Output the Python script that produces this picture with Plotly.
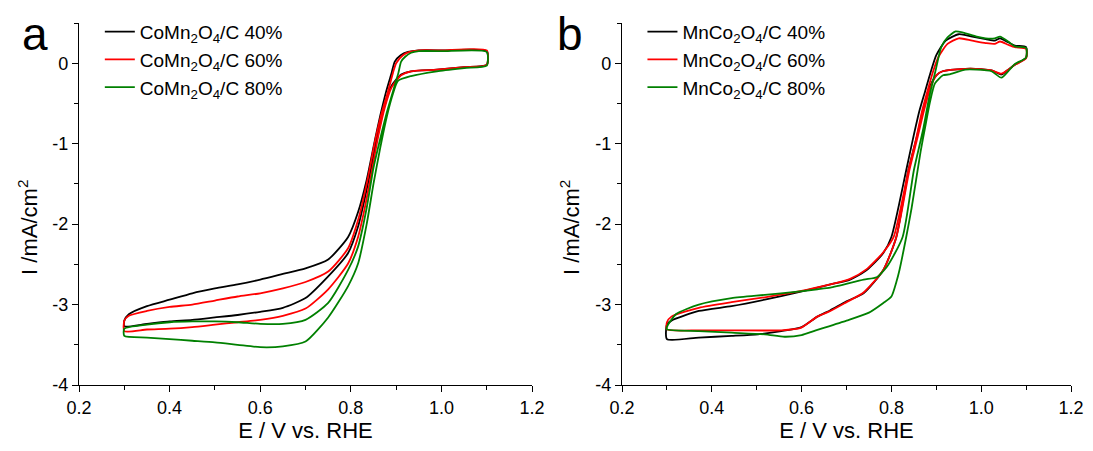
import plotly.graph_objects as go

# ---- data (E / V vs RHE, I / mA cm^-2) ----
# panel a: CoMn2O4/C, each loop = lower branch (0.3 -> 1.1) + upper branch (1.1 -> 0.3)
a40_lo_v = [0.30, 0.35, 0.40, 0.45, 0.50, 0.55, 0.60, 0.65, 0.70, 0.75, 0.794, 0.816, 0.83, 0.845, 0.86, 0.875, 0.89, 0.911, 0.933, 0.99, 1.05, 1.10]
a40_lo_i = [-3.27, -3.24, -3.21, -3.19, -3.16, -3.13, -3.09, -3.04, -2.92, -2.65, -2.36, -2.03, -1.70, -1.30, -0.88, -0.52, -0.28, -0.14, -0.10, -0.08, -0.05, -0.02]
a40_up_v = [0.30, 0.31, 0.35, 0.40, 0.45, 0.50, 0.55, 0.60, 0.65, 0.70, 0.75, 0.794, 0.816, 0.835, 0.853, 0.865, 0.878, 0.89, 0.897, 0.91, 0.926, 0.95, 1.00, 1.10]
a40_up_i = [-3.20, -3.12, -3.02, -2.94, -2.86, -2.80, -2.75, -2.69, -2.62, -2.55, -2.44, -2.16, -1.85, -1.45, -0.96, -0.65, -0.35, -0.12, 0.02, 0.10, 0.14, 0.16, 0.16, 0.15]

a60_lo_v = [0.30, 0.35, 0.40, 0.45, 0.50, 0.55, 0.60, 0.65, 0.70, 0.75, 0.794, 0.816, 0.83, 0.845, 0.86, 0.875, 0.89, 0.911, 0.933, 0.99, 1.05, 1.10]
a60_lo_i = [-3.33, -3.31, -3.30, -3.28, -3.25, -3.22, -3.19, -3.14, -3.05, -2.81, -2.49, -2.16, -1.82, -1.38, -0.92, -0.55, -0.30, -0.15, -0.10, -0.08, -0.05, -0.02]
a60_up_v = [0.30, 0.31, 0.35, 0.40, 0.45, 0.50, 0.55, 0.60, 0.65, 0.70, 0.75, 0.794, 0.816, 0.835, 0.853, 0.868, 0.882, 0.893, 0.90, 0.915, 0.93, 0.95, 1.00, 1.10]
a60_up_i = [-3.20, -3.14, -3.08, -3.03, -3.00, -2.95, -2.90, -2.86, -2.80, -2.72, -2.59, -2.30, -1.95, -1.50, -0.98, -0.62, -0.35, -0.12, 0.00, 0.10, 0.14, 0.16, 0.16, 0.16]

a80_lo_v = [0.30, 0.35, 0.40, 0.45, 0.50, 0.55, 0.60, 0.65, 0.70, 0.75, 0.794, 0.816, 0.835, 0.85, 0.865, 0.88, 0.893, 0.904, 0.933, 0.99, 1.05, 1.10]
a80_lo_i = [-3.39, -3.41, -3.43, -3.45, -3.47, -3.50, -3.53, -3.52, -3.46, -3.16, -2.77, -2.49, -2.00, -1.50, -1.05, -0.65, -0.38, -0.22, -0.16, -0.10, -0.06, -0.03]
a80_up_v = [0.30, 0.35, 0.40, 0.45, 0.50, 0.55, 0.60, 0.65, 0.70, 0.75, 0.794, 0.816, 0.835, 0.85, 0.864, 0.88, 0.893, 0.905, 0.911, 0.92, 0.933, 0.95, 1.00, 1.10]
a80_up_i = [-3.30, -3.25, -3.22, -3.21, -3.21, -3.22, -3.24, -3.24, -3.19, -2.98, -2.57, -2.28, -1.80, -1.30, -0.96, -0.60, -0.35, -0.12, 0.02, 0.08, 0.13, 0.15, 0.15, 0.14]

# panel b: MnCo2O4/C
b40_lo_v = [0.30, 0.371, 0.444, 0.503, 0.555, 0.60, 0.635, 0.664, 0.70, 0.738, 0.782, 0.811, 0.838, 0.855, 0.87, 0.885, 0.90, 0.914, 0.965, 0.987, 1.023, 1.045, 1.06, 1.075, 1.10]
b40_lo_i = [-3.43, -3.41, -3.39, -3.37, -3.33, -3.28, -3.15, -3.07, -2.96, -2.86, -2.57, -2.16, -1.33, -0.95, -0.60, -0.30, -0.15, -0.10, -0.07, -0.07, -0.09, -0.14, -0.08, -0.02, 0.07]
b40_up_v = [0.30, 0.31, 0.371, 0.444, 0.518, 0.591, 0.664, 0.708, 0.745, 0.782, 0.80, 0.833, 0.848, 0.862, 0.875, 0.888, 0.90, 0.921, 0.95, 0.98, 1.01, 1.03, 1.042, 1.06, 1.075, 1.10]
b40_up_i = [-3.25, -3.20, -3.08, -3.02, -2.94, -2.85, -2.75, -2.69, -2.57, -2.36, -2.16, -1.33, -0.94, -0.60, -0.35, -0.10, 0.10, 0.28, 0.36, 0.33, 0.30, 0.28, 0.31, 0.26, 0.22, 0.20]

b60_lo_v = [0.30, 0.371, 0.444, 0.555, 0.598, 0.635, 0.664, 0.70, 0.738, 0.782, 0.811, 0.84, 0.857, 0.872, 0.887, 0.90, 0.914, 0.965, 0.987, 1.023, 1.045, 1.06, 1.075, 1.10]
b60_lo_i = [-3.31, -3.32, -3.32, -3.32, -3.29, -3.15, -3.08, -2.97, -2.85, -2.57, -2.16, -1.33, -0.95, -0.60, -0.30, -0.15, -0.10, -0.07, -0.07, -0.09, -0.13, -0.08, -0.02, 0.06]
b60_up_v = [0.30, 0.31, 0.371, 0.444, 0.518, 0.591, 0.664, 0.708, 0.745, 0.782, 0.805, 0.838, 0.855, 0.868, 0.88, 0.893, 0.905, 0.925, 0.95, 0.98, 1.01, 1.03, 1.042, 1.06, 1.075, 1.10]
b60_up_i = [-3.22, -3.15, -3.04, -2.97, -2.91, -2.84, -2.75, -2.68, -2.56, -2.35, -2.16, -1.33, -0.94, -0.60, -0.35, -0.10, 0.08, 0.24, 0.31, 0.28, 0.25, 0.24, 0.27, 0.23, 0.20, 0.18]

b80_lo_v = [0.30, 0.371, 0.444, 0.518, 0.562, 0.60, 0.627, 0.70, 0.75, 0.782, 0.80, 0.811, 0.818, 0.833, 0.845, 0.855, 0.865, 0.875, 0.886, 0.897, 0.915, 0.928, 0.965, 0.99, 1.023, 1.045, 1.06, 1.075, 1.10]
b80_lo_i = [-3.31, -3.33, -3.35, -3.37, -3.40, -3.38, -3.33, -3.20, -3.10, -2.98, -2.90, -2.72, -2.57, -2.16, -1.80, -1.45, -1.10, -0.80, -0.48, -0.25, -0.15, -0.14, -0.08, -0.08, -0.10, -0.18, -0.10, -0.01, 0.07]
b80_up_v = [0.30, 0.32, 0.371, 0.444, 0.518, 0.591, 0.635, 0.664, 0.738, 0.767, 0.79, 0.825, 0.85, 0.87, 0.885, 0.898, 0.911, 0.925, 0.943, 0.96, 0.99, 1.01, 1.03, 1.042, 1.06, 1.075, 1.10]
b80_up_i = [-3.28, -3.12, -3.00, -2.92, -2.88, -2.84, -2.81, -2.79, -2.69, -2.66, -2.53, -2.16, -1.33, -0.84, -0.40, -0.10, 0.20, 0.32, 0.395, 0.38, 0.33, 0.31, 0.31, 0.33, 0.27, 0.21, 0.19]

a_names = ["CoMn<sub>2</sub>O<sub>4</sub>/C 40%", "CoMn<sub>2</sub>O<sub>4</sub>/C 60%", "CoMn<sub>2</sub>O<sub>4</sub>/C 80%"]
b_names = ["MnCo<sub>2</sub>O<sub>4</sub>/C 40%", "MnCo<sub>2</sub>O<sub>4</sub>/C 60%", "MnCo<sub>2</sub>O<sub>4</sub>/C 80%"]
colors = ["#000000", "#ff0000", "#008000"]

x_ticks = [0.2, 0.4, 0.6, 0.8, 1.0, 1.2]
x_ticktext = ["0.2", "0.4", "0.6", "0.8", "1.0", "1.2"]
y_ticks = [-4, -3, -2, -1, 0]
y_ticktext = ["-4", "-3", "-2", "-1", "0"]

FONT = "Liberation Sans, Arial, sans-serif"


def loop(lo_v, lo_i, up_v, up_i):
    """lower branch forward, upper branch back, closed at 0.3 V"""
    v = list(lo_v) + list(reversed(up_v)) + [lo_v[0]]
    i = list(lo_i) + list(reversed(up_i)) + [lo_i[0]]
    return v, i


fig = go.Figure()

a_loops = [(a40_lo_v, a40_lo_i, a40_up_v, a40_up_i),
           (a60_lo_v, a60_lo_i, a60_up_v, a60_up_i),
           (a80_lo_v, a80_lo_i, a80_up_v, a80_up_i)]
b_loops = [(b40_lo_v, b40_lo_i, b40_up_v, b40_up_i),
           (b60_lo_v, b60_lo_i, b60_up_v, b60_up_i),
           (b80_lo_v, b80_lo_i, b80_up_v, b80_up_i)]

for name, col, d in zip(a_names, colors, a_loops):
    v, i = loop(*d)
    fig.add_trace(go.Scatter(x=v, y=i, mode='lines', name=name,
                             line=dict(color=col, width=1.8, shape='spline', smoothing=0.6),
                             xaxis='x', yaxis='y', legend='legend'))

for name, col, d in zip(b_names, colors, b_loops):
    v, i = loop(*d)
    fig.add_trace(go.Scatter(x=v, y=i, mode='lines', name=name,
                             line=dict(color=col, width=1.8, shape='spline', smoothing=0.6),
                             xaxis='x2', yaxis='y2', legend='legend2'))

xax = dict(range=[0.2, 1.2], tickvals=x_ticks, ticktext=x_ticktext, automargin=False,
           showline=True, linecolor='black', linewidth=1.3, mirror=False,
           ticks='outside', ticklen=6, tickwidth=1.3, tickcolor='black',
           minor=dict(ticks='outside', dtick=0.1, tick0=0.2, ticklen=4, tickwidth=1.3, tickcolor='black'),
           showgrid=False, zeroline=False,
           tickfont=dict(family=FONT, size=18, color='black'),
           title=dict(text='E / V vs. RHE', font=dict(family=FONT, size=22, color='black'), standoff=13))
yax = dict(range=[-4, 0.5], tickvals=y_ticks, ticktext=y_ticktext, automargin=False,
           showline=True, linecolor='black', linewidth=1.3, mirror=False,
           ticks='outside', ticklen=6, tickwidth=1.3, tickcolor='black',
           minor=dict(ticks='outside', dtick=0.5, tick0=0, ticklen=4, tickwidth=1.3, tickcolor='black'),
           showgrid=False, zeroline=False,
           tickfont=dict(family=FONT, size=18, color='black'))

leg = dict(xanchor='left', yanchor='top', bgcolor='rgba(0,0,0,0)',
           font=dict(family=FONT, size=19, color='black'), tracegroupgap=0,
           itemwidth=30)

ytitle = 'I /mA/cm<sup>2</sup>'
title_font = dict(family=FONT, size=22, color='black')
letter_font = dict(family=FONT, size=46, color='black')

# page body has an 8px margin: keep the figure inside the window so no scrollbars appear
fig.update_layout(
    width=1077, height=435,
    margin=dict(l=71, r=14, t=15, b=58, autoexpand=False),
    plot_bgcolor='white', paper_bgcolor='white',
    showlegend=True,
    xaxis=dict(domain=[0, 0.4567], anchor='y', **xax),
    yaxis=dict(domain=[0, 1], anchor='x', **yax),
    xaxis2=dict(domain=[0.5474, 1], anchor='y2', **xax),
    yaxis2=dict(domain=[0, 1], anchor='x2', **yax),
    legend=dict(x=0.021, y=1.028, **leg),
    legend2=dict(x=0.568, y=1.028, **leg),
    annotations=[
        dict(text='a', x=-0.0595, y=0.97, xref='paper', yref='paper', xanchor='left', yanchor='middle',
             showarrow=False, font=letter_font),
        dict(text='b', x=0.480, y=0.97, xref='paper', yref='paper', xanchor='left', yanchor='middle',
             showarrow=False, font=letter_font),
        dict(text=ytitle, x=-0.0514, y=0.434, xref='paper', yref='paper', xanchor='center', yanchor='middle',
             textangle=-90, showarrow=False, font=title_font),
        dict(text=ytitle, x=0.495, y=0.434, xref='paper', yref='paper', xanchor='center', yanchor='middle',
             textangle=-90, showarrow=False, font=title_font),
    ],
)

fig.write_html("out.html")
